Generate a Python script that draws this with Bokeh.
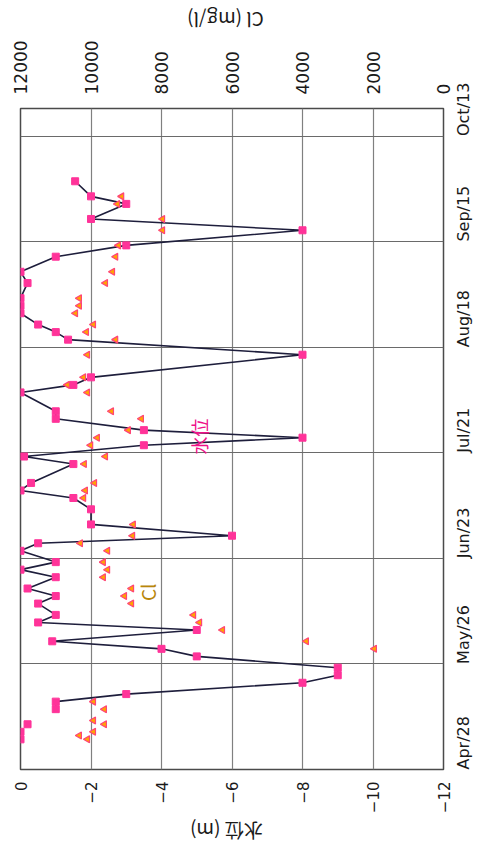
import math
from datetime import date
from bokeh.plotting import figure
from bokeh.layouts import column
from bokeh.models import Range1d, LinearAxis, FixedTicker, ColumnDataSource, Grid
from bokeh.core.properties import value
from bokeh.embed import file_html
from bokeh.resources import INLINE

YEAR = 2013
START = "4/28"

# date axis ticks (every 28 days)
tick_dates = ["4/28", "5/26", "6/23", "7/21", "8/18", "9/15", "10/13"]
tick_date_labels = ["Apr/28", "May/26", "Jun/23", "Jul/21", "Aug/18", "Sep/15", "Oct/13"]
# water level axis (m)
level_ticks = [0, -2, -4, -6, -8, -10, -12]
level_tick_labels = ["0", "\u22122", "\u22124", "\u22126", "\u22128", "\u221210", "\u221212"]
level_title = "水位 (m)"
# chloride axis (mg/l)
cl_ticks = [0, 2000, 4000, 6000, 8000, 10000, 12000]
cl_tick_labels = ["0", "2000", "4000", "6000", "8000", "10000", "12000"]
cl_title = "Cl (mg/l)"

# isolated early water-level readings (not joined by the line)
level_dates_isolated = ["5/6", "5/8", "5/10"]
level_isolated = [0.0, 0.0, -0.2]

# water level series (m)
level_dates = ["5/14", "5/16", "5/18", "5/21", "5/23", "5/25", "5/28", "5/30", "6/1",
               "6/4", "6/6", "6/8", "6/11", "6/13", "6/15", "6/18", "6/20", "6/22",
               "6/25", "6/27", "6/29", "7/2", "7/6", "7/9", "7/11", "7/13", "7/18",
               "7/20", "7/23", "7/25", "7/27", "7/30", "8/1", "8/6", "8/8", "8/10",
               "8/16", "8/20", "8/22", "8/24", "8/27", "8/29", "8/31", "9/4", "9/7",
               "9/11", "9/14", "9/18", "9/21", "9/25", "9/27", "10/1"]
level = [-1.0, -1.0, -3.0, -8.0, -9.0, -9.0, -5.0, -4.0, -0.9,
         -5.0, -0.5, -1.0, -0.5, -1.0, -0.2, -1.0, 0.0, -1.0,
         0.0, -0.5, -6.0, -2.0, -2.0, -1.5, 0.0, -0.3, -1.5,
         -0.1, -3.5, -8.0, -3.5, -1.0, -1.0, 0.0, -1.5, -2.0,
         -8.0, -1.35, -1.0, -0.5, 0.0, 0.0, 0.0, -0.2, 0.0,
         -1.0, -3.0, -8.0, -2.0, -3.0, -2.0, -1.55]

# chloride series (mg/l)
cl_dates = ["5/6", "5/7", "5/8", "5/10", "5/11", "5/14", "5/16",
            "5/30", "6/1", "6/4", "6/6", "6/8", "6/11", "6/13", "6/15", "6/18",
            "6/20", "6/22", "6/25", "6/27", "6/29", "7/2", "7/9", "7/11", "7/13",
            "7/18", "7/20", "7/23", "7/25", "7/27", "7/30", "8/1", "8/6", "8/8",
            "8/10", "8/16", "8/20", "8/22", "8/24", "8/27", "8/29", "8/31", "9/4",
            "9/7", "9/11", "9/14", "9/18", "9/21", "9/25", "9/27"]
cl = [10100, 10330, 9930, 9620, 9930, 9620, 9930,
      1960, 3890, 6270, 6920, 7090, 8850, 9050, 8850, 9650,
      9530, 9650, 9530, 10300, 8820, 8800, 10210, 10160, 9900,
      10190, 9590, 10010, 9820, 8940, 8570, 9420, 10100, 10670,
      10210, 10100, 9300, 10130, 9930, 10440, 10330, 10330, 9590,
      9390, 9300, 9220, 7970, 7970, 9250, 9130]


def day(s):
    m, d = (int(v) for v in s.split("/"))
    m0, d0 = (int(v) for v in START.split("/"))
    return (date(YEAR, m, d) - date(YEAR, m0, d0)).days


tick_days = [day(s) for s in tick_dates]

W = 485
TOP_H, MAIN_H, BOT_H = 36, 780, 30

p = figure(width=W, height=MAIN_H, output_backend="svg", toolbar_location=None,
           x_range=Range1d(0, -12), y_range=Range1d(0, 175.3),
           x_axis_location=None, y_axis_location=None,
           min_border_left=20, min_border_right=42, min_border_top=72, min_border_bottom=45)
p.extra_x_ranges = {"cl": Range1d(12000, 0)}
p.background_fill_color = "white"
p.border_fill_color = "white"
p.outline_line_color = "#4a4a4a"
p.outline_line_width = 1.5
p.xgrid.visible = False
p.ygrid.visible = False


def style_axis(ax, size="16px", standoff=12):
    ax.axis_line_color = None
    ax.major_tick_line_color = None
    ax.minor_tick_line_color = None
    ax.major_label_text_font = "DejaVu Sans"
    ax.major_label_text_font_size = size
    ax.major_label_text_color = "#1a1a1a"
    ax.major_label_orientation = math.pi / 2
    ax.major_label_standoff = standoff


ax_level = LinearAxis(ticker=FixedTicker(ticks=level_ticks),
                      major_label_overrides=dict(zip(level_ticks, level_tick_labels)))
style_axis(ax_level, "15px", 6)
p.add_layout(ax_level, "below")

ax_cl = LinearAxis(x_range_name="cl", ticker=FixedTicker(ticks=cl_ticks),
                   major_label_overrides=dict(zip(cl_ticks, cl_tick_labels)))
style_axis(ax_cl, "17px", 8)
p.add_layout(ax_cl, "above")

ax_date = LinearAxis(ticker=FixedTicker(ticks=tick_days),
                     major_label_overrides=dict(zip(tick_days, tick_date_labels)))
style_axis(ax_date, "16px", 14)
p.add_layout(ax_date, "right")

p.add_layout(Grid(dimension=0, ticker=FixedTicker(ticks=level_ticks),
                  grid_line_color="#808080", grid_line_width=1.2))
p.add_layout(Grid(dimension=1, ticker=FixedTicker(ticks=tick_days),
                  grid_line_color="#6a6a6a", grid_line_width=1.2))

src_level = ColumnDataSource(dict(day=[day(s) for s in level_dates], level=level))
src_iso = ColumnDataSource(dict(day=[day(s) for s in level_dates_isolated], level=level_isolated))
src_cl = ColumnDataSource(dict(day=[day(s) for s in cl_dates], cl=cl))

p.line(x="level", y="day", source=src_level, line_color="#1e1e3c", line_width=1.6)
p.scatter(x="level", y="day", source=src_level, marker="square", size=7,
          fill_color="#ff3399", line_color="#ff3399")
p.scatter(x="level", y="day", source=src_iso, marker="square", size=7,
          fill_color="#ff3399", line_color="#ff3399")
p.scatter(x="cl", y="day", source=src_cl, x_range_name="cl", marker="triangle",
          angle=math.pi / 2, size=7, fill_color="#ffa500", line_color="#ff4477", line_width=1.2)

p.text(x=[-5.06], y=[88.3], text=["水位"], angle=math.pi / 2, text_color="#ee1188",
       text_font=value("Noto Sans CJK JP"), text_font_size="18px",
       text_align="center", text_baseline="middle")
p.text(x=[8400], y=[47], text=["Cl"], x_range_name="cl", angle=math.pi / 2,
       text_color="#b8860b", text_font=value("Noto Sans CJK JP"), text_font_size="19px",
       text_align="center", text_baseline="middle")


def title_strip(h, text, cx, cy, size):
    """Thin strip holding an upside-down axis title (the original chart is rotated)."""
    f = figure(width=W, height=h, output_backend="svg", toolbar_location=None,
               x_range=Range1d(0, W), y_range=Range1d(0, h),
               x_axis_location=None, y_axis_location=None, min_border=0)
    f.outline_line_color = None
    f.xgrid.visible = False
    f.ygrid.visible = False
    f.text(x=[cx], y=[cy], text=[text], angle=math.pi, text_color="#1a1a1a",
           text_font=value("Noto Sans CJK JP"), text_font_size=size,
           text_align="center", text_baseline="middle")
    return f


top = title_strip(TOP_H, cl_title, 235, TOP_H - 20, "19px")
bottom = title_strip(BOT_H, level_title, 236, BOT_H / 2, "19px")

layout = column(top, p, bottom, spacing=0)
open("out.html", "w").write(file_html(layout, INLINE))
